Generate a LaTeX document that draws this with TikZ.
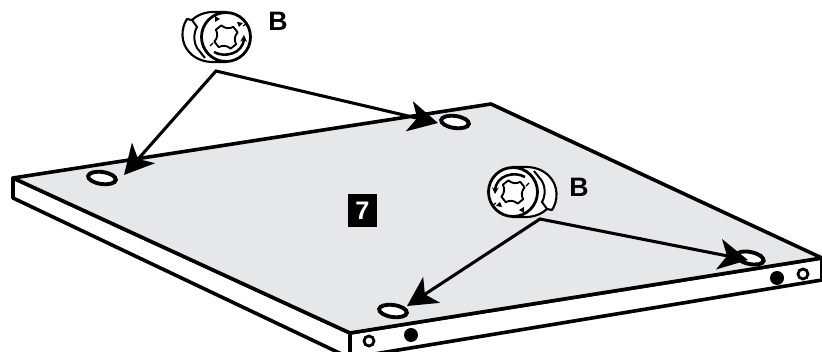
\documentclass[tikz,border=0pt]{standalone}
\usepackage{fontspec}
\setmainfont{Liberation Sans}
\usetikzlibrary{arrows.meta,calc,shapes.geometric}
\definecolor{platefill}{HTML}{E6E7E8}
\tikzset{
    plate line/.style = {
        line width=2.7pt,
        line join=round,
        },
    hole/.style = {
        draw,
        ellipse,
        fill = white,
        line width=2.9pt,
        inner sep=0pt,
        minimum width=21pt,
        minimum height=9pt,
        },
    pointer/.style = {
        line width=2.3pt,
        {Stealth[length=22pt,width=23pt,inset=6pt]}-{Stealth[length=22pt,width=23pt,inset=6pt]},
        },
    part label/.style = {
        font=\fontsize{20}{20}\selectfont\bfseries,
        inner sep=0pt,
        },
    screw/.pic = {
        % body behind the head
        \draw[line width=1.6pt, line join=round, fill=white] (-13,-25) .. controls (-22,-25) and (-30,-21) .. (-34,-17) -- (-39,-18) .. controls (-45,-9) and (-46,6) .. (-36,16) .. controls (-30,22) and (-22,25) .. (-13,25) -- (0,25) -- (0,-25) -- cycle;
        \draw[line width=1.5pt] (-34,-17) -- (-29,-10) .. controls (-33,-3) and (-32,6) .. (-29,11) -- (-21,21);
        \draw[line width=2.1pt, fill=white] (0,0) circle (24.5);
        % cross recess
        \draw[line width=1.4pt, line join=round, rotate=38] (-3.5,-12) -- (3.5,-12) to[bend right=35] (12,-3.5) -- (12,3.5) to[bend right=35] (3.5,12) -- (-3.5,12) to[bend right=35] (-12,3.5) -- (-12,-3.5) to[bend right=35] (-3.5,-12) -- cycle;
        % turning arrow
        \draw[line width=1.9pt, -{Stealth[length=5pt,width=5pt]}] (-12,15) .. controls (-2,21) and (17,17) .. (18,-2);
        \draw[line width=.9pt] (-16,9) -- (-13,6);
        \draw[line width=.9pt] (17,-11) -- (20,-13);
        \fill (-11,-15) -- (-6,-18) -- (-11,-21) -- cycle;
        \fill (13,-10) -- (17,-14) -- (11,-15) -- cycle;
        },
}
\begin{document}
\begin{tikzpicture}[x=0.75pt,y=-0.75pt]
    \clip (0,0) rectangle (822,352);
    % plate
    \draw[plate line, fill=white] (13,178) -- (13,198) -- (350,358) -- (822,280) -- (822,258) -- (350,333) -- cycle;
    \draw[plate line] (350,333) -- (350,358);
    \draw[plate line, fill=platefill] (13,178) -- (491,104) -- (822,258) -- (350,333) -- cycle;

    % holes in the edge
    \fill (411,335) circle (7);
    \fill (777,278) circle (7);
    \draw[line width=2.1pt, fill=white] (369,341) circle (5);
    \draw[line width=2.1pt, fill=white] (803,274) circle (5);

    % holes in the top
    \node[hole, rotate=-8] (holea) at (102,178) {};
    \node[hole, rotate=-8] (holeb) at (455,122) {};
    \node[hole, rotate=-8] (holec) at (393,311) {};
    \node[hole, rotate=-12] (holed) at (750,258) {};
    \foreach \h in {holea,holeb,holec,holed}
        \draw[line width=1pt] ($(\h)+(11,-4)$) to[bend left=50] ($(\h)+(10,5)$);

    % fittings
    \pic at (226,37) {screw};
    \pic[rotate=180] at (513,192) {screw};
    \node[part label] (labela) at (278,21) {B};
    \node[part label] (labelb) at (579,187) {B};

    % pointers
    \coordinate (apexa) at (216,71);
    \coordinate (apexb) at (540,219);
    \coordinate (tipa) at (124,175);
    \coordinate (tipb) at (438,123);
    \coordinate (tipc) at (407,306);
    \coordinate (tipd) at (748,260);
    \draw[pointer] (tipa) -- (apexa) -- (tipb);
    \draw[pointer] (tipc) -- (apexb) -- (tipd);

    % step number
    \node[fill=black, text=white, font=\fontsize{19}{19}\selectfont\bfseries, minimum width=21.5pt, minimum height=24.5pt, inner sep=0pt] (stepno) at (362.5,210.5) {7};
\end{tikzpicture}
\end{document}
